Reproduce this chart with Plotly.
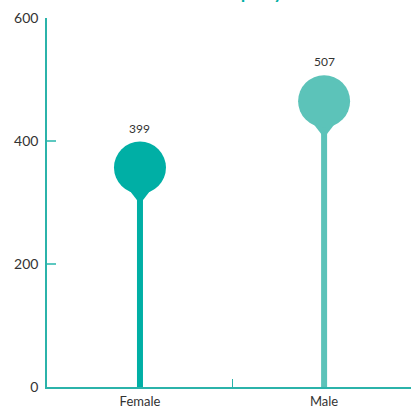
import plotly.graph_objects as go

# Headcount by gender
categories = ["Female", "Male"]
counts = [399, 507]
colors = ["#00afa5", "#5cc3b9"]
y_ticks = [0, 200, 400, 600]

W, H = 411, 409
M = dict(l=47, r=0, t=18, b=22)
Y_MAX = 600
AXIS = "#2bb3aa"
TEXT = "#333333"

plot_h = H - M["t"] - M["b"]
px_per_unit = plot_h / Y_MAX
head_r = 26  # px radius of the lollipop head


def px_to_units(px):
    return px / px_per_unit


fig = go.Figure()

for cat, val, col in zip(categories, counts, colors):
    # head sits just under its value, so its top edge marks the count
    center = val - px_to_units(head_r)
    flare = val - px_to_units(2 * head_r + 1.5)
    fig.add_trace(go.Scatter(
        x=[cat, cat], y=[0, center], mode="lines",
        line=dict(color=col, width=6), hoverinfo="skip", showlegend=False))
    fig.add_trace(go.Scatter(
        x=[cat], y=[flare], mode="markers",
        marker=dict(symbol="triangle-down", size=18, color=col, line=dict(width=0)),
        hoverinfo="skip", showlegend=False))
    fig.add_trace(go.Scatter(
        x=[cat], y=[center], mode="markers",
        marker=dict(symbol="circle", size=2 * head_r, color=col, line=dict(width=0)),
        hoverinfo="skip", showlegend=False))
    fig.add_annotation(
        x=cat, y=val, text=str(val), showarrow=False,
        yanchor="bottom", yshift=4,
        font=dict(family="Lato, sans-serif", size=12, color=TEXT))

fig.add_annotation(
    xref="paper", yref="paper", x=0.596, y=1, xanchor="center", yanchor="bottom",
    yshift=13, text="Employees", showarrow=False,
    font=dict(family="Lato, sans-serif", size=24, color="#00afa5"))

fig.update_layout(
    width=W, height=H, margin=M,
    paper_bgcolor="white", plot_bgcolor="white",
    font=dict(family="Lato, sans-serif", size=14, color=TEXT),
    xaxis=dict(
        type="category", categoryorder="array", categoryarray=categories,
        range=[-0.505, 1.472], showgrid=False, zeroline=False,
        showline=True, linecolor=AXIS, linewidth=1.5,
        ticks="inside", tickson="boundaries", ticklen=8, tickcolor=AXIS, tickwidth=1.2,
        tickfont=dict(size=13, color=TEXT), ticklabelstandoff=2, fixedrange=True),
    yaxis=dict(
        range=[0, Y_MAX], tickvals=y_ticks, showgrid=False, zeroline=False,
        showline=True, linecolor=AXIS, linewidth=1.5,
        ticks="inside", ticklen=9, tickcolor="#5cc8c0", tickwidth=1.5,
        tickfont=dict(size=14, color=TEXT), ticklabelstandoff=4, fixedrange=True),
)

fig.write_html("out.html")
